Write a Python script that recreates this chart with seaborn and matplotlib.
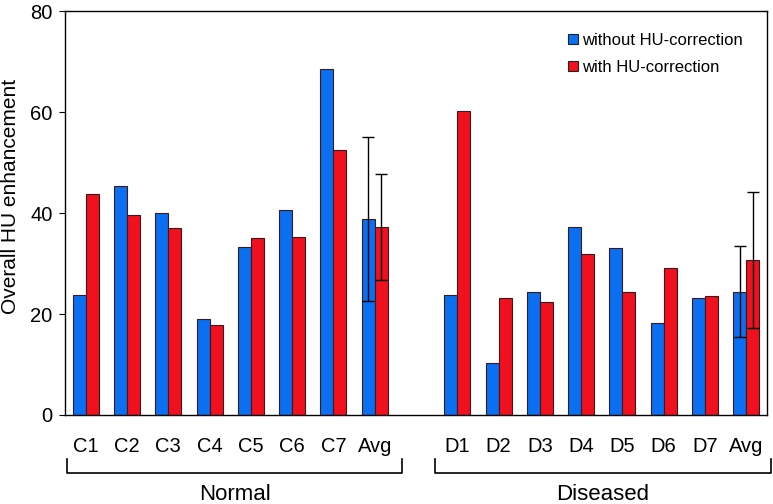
import numpy as np
import pandas as pd
import seaborn as sns
import matplotlib.pyplot as plt
from matplotlib.lines import Line2D
import matplotlib.transforms as mtransforms

# values
normal_ids = ["C1", "C2", "C3", "C4", "C5", "C6", "C7", "C-Avg"]
diseased_ids = ["D1", "D2", "D3", "D4", "D5", "D6", "D7", "D-Avg"]
normal_without = [23.8, 45.3, 40.1, 19.1, 33.2, 40.6, 68.6, 38.8]
normal_with = [43.7, 39.6, 37.0, 17.8, 35.1, 35.2, 52.4, 37.3]
diseased_without = [23.8, 10.2, 24.3, 37.3, 33.1, 18.3, 23.2, 24.4]
diseased_with = [60.3, 23.2, 22.4, 31.9, 24.3, 29.2, 23.6, 30.7]
avg_err_normal = [16.2, 10.5]
avg_err_diseased = [9.0, 13.5]
tick_labels = ["C1", "C2", "C3", "C4", "C5", "C6", "C7", "Avg", "",
               "D1", "D2", "D3", "D4", "D5", "D6", "D7", "Avg"]
series = ["without HU-correction", "with HU-correction"]
colors = ["#0a6ff0", "#f0101e"]

ids = normal_ids + diseased_ids
df = pd.DataFrame({
    "id": ids * 2,
    "value": normal_without + diseased_without + normal_with + diseased_with,
    "series": [series[0]] * 16 + [series[1]] * 16,
})
order = normal_ids + [" "] + diseased_ids

plt.rcParams['font.family'] = ['Liberation Sans', 'DejaVu Sans']
fig = plt.figure(figsize=(7.73, 5.04), dpi=100)
ax = fig.add_axes([0.0841, 0.1766, 0.908, 0.8014])

sns.barplot(data=df, x="id", y="value", hue="series", order=order,
            hue_order=series, palette=colors, saturation=1, width=0.63, gap=0,
            edgecolor="#3a1a1a", linewidth=0.8, legend=False, ax=ax, errorbar=None)

# error bars on the average bars
bar_containers = list(ax.containers)
errs_by_series = [[avg_err_normal[0], avg_err_diseased[0]],
                  [avg_err_normal[1], avg_err_diseased[1]]]
for k, cont in enumerate(bar_containers):
    bars = sorted([b for b in cont.patches if b.get_height() > 0],
                  key=lambda b: b.get_x())
    for b, e in zip([bars[7], bars[-1]], errs_by_series[k]):
        ax.errorbar(b.get_x() + b.get_width() / 2, b.get_height(), yerr=e,
                    fmt="none", ecolor="black", elinewidth=1, capsize=4, capthick=1)

ax.set_xlim(-0.5, 16.5)
ax.set_ylim(0, 80)
ax.set_yticks([0, 20, 40, 60, 80])
ax.set_xticks(range(17))
ax.set_xticklabels(tick_labels)
ax.tick_params(axis="x", length=0, pad=16, labelsize=14.5)
ax.tick_params(axis="y", direction="out", length=4, labelsize=14.5, pad=5)
ax.set_xlabel("")
ax.set_ylabel("Overall HU enhancement", fontsize=15)
ax.yaxis.set_label_coords(-0.064, 0.54)
for s in ax.spines.values():
    s.set_linewidth(1)

# group brackets below the axis
trans = mtransforms.blended_transform_factory(ax.transData, ax.transAxes)
for (x0, x1), name in [((-0.44, 7.66), "Normal"), ((8.46, 16.6), "Diseased")]:
    ax.plot([x0, x0, x1, x1], [-0.109, -0.1436, -0.1436, -0.109], color="black",
            lw=1.2, transform=trans, clip_on=False)
    ax.text((x0 + x1) / 2, -0.198, name, transform=trans, ha="center", va="center",
            fontsize=16)

handles = [Line2D([], [], marker="s", linestyle="none", markersize=6.5,
                  markerfacecolor=c, markeredgecolor="#222222", markeredgewidth=0.8)
           for c in colors]
ax.legend(handles, series, loc="upper right", bbox_to_anchor=(0.966, 0.945),
          frameon=False, fontsize=12, handletextpad=0.15, labelspacing=0.7,
          handlelength=0.8, borderpad=0, borderaxespad=0)

fig.savefig("out.png", dpi=100)
